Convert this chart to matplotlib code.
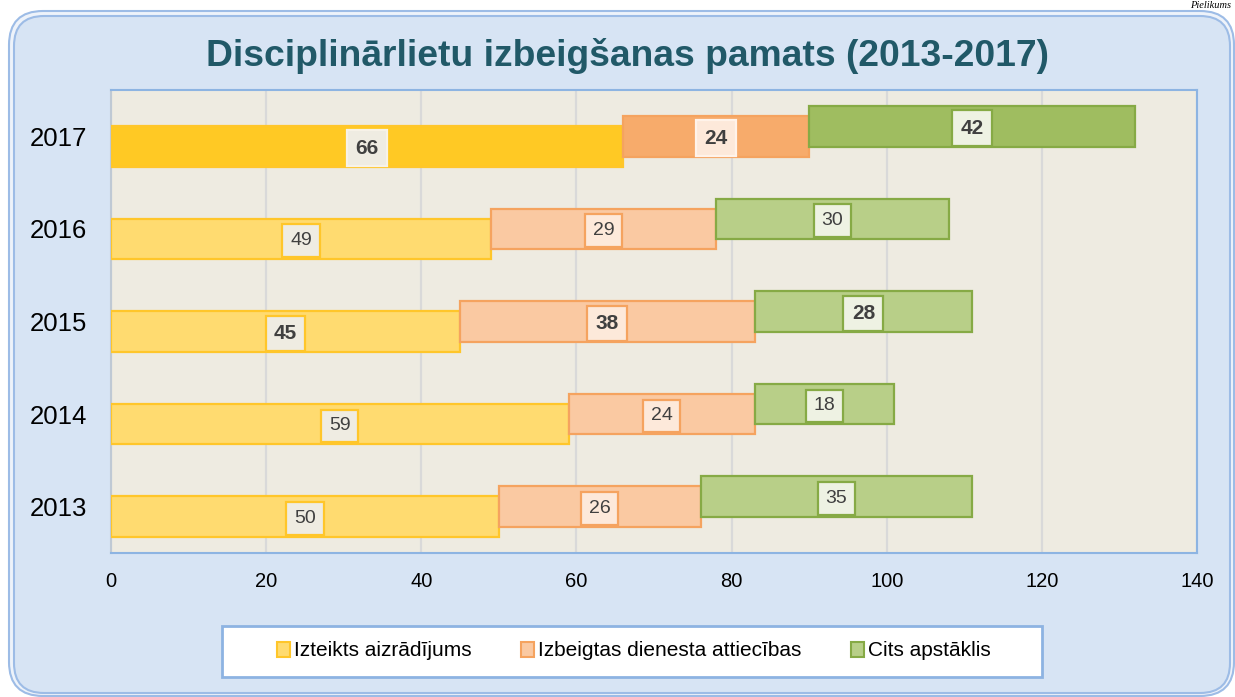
import matplotlib
matplotlib.use("Agg")
import matplotlib.pyplot as plt
from matplotlib.patches import FancyBboxPatch, Rectangle, Patch
import numpy as np

plt.rcParams['font.family'] = ['Liberation Sans', 'DejaVu Sans']

# ---- data ----
years = ["2013", "2014", "2015", "2016", "2017"]
series_names = ["Izteikts aizrādījums", "Izbeigtas dienesta attiecības", "Cits apstāklis"]
aizradijums = [50, 59, 45, 49, 66]
dienesta = [26, 24, 38, 29, 24]
cits = [35, 18, 28, 30, 42]
bold_years = ["2015", "2017"]
dark_years = ["2017"]
title = "Disciplinārlietu izbeigšanas pamats (2013-2017)"
page_note = "Pielikums"

# ---- styles ----
face_light = ["#FFDB70", "#FAC9A2", "#B8CF88"]
face_dark = ["#FFC924", "#F7AB6B", "#9FBD60"]
edge_cols = ["#FFC62A", "#F5A35F", "#86AA45"]
lbl_face = ["#EFECE2", "#FDE9DA", "#EEF2E3"]
offsets = [-0.108, 0.0, 0.108]
bar_h = 0.44

W, H = 1235, 697
fig = plt.figure(figsize=(W / 100, H / 100), dpi=100)

# background panel
bg = fig.add_axes([0, 0, 1, 1], zorder=-5)
bg.set_xlim(0, W)
bg.set_ylim(H, 0)
bg.axis("off")
bg.add_patch(FancyBboxPatch((9, 11), 1225, 685, boxstyle="round,pad=0,rounding_size=34",
                            fc="#EEF3FA", ec="#9DBCE6", lw=1.5))
bg.add_patch(FancyBboxPatch((14, 16), 1216, 677, boxstyle="round,pad=0,rounding_size=30",
                            fc="#D7E4F4", ec="#9DBCE6", lw=1.5))
# legend box
bg.add_patch(Rectangle((222, 626), 820, 51, fc="white", ec="#8DB3E2", lw=2))
# page annotation at top right
bg.text(1231, 0.5, page_note, fontsize=7.5, family="Liberation Serif", style="italic",
        ha="right", va="top", color="black")

# main axes
ax = fig.add_axes([111 / W, 1 - 553 / H, (1197 - 111) / W, (553 - 90) / H])
ax.set_facecolor("#EEEBE1")
pos = np.arange(len(years))
data = [aizradijums, dienesta, cits]
left = np.zeros(len(years))
for s, vals in enumerate(data):
    vals = np.array(vals, dtype=float)
    faces = [face_dark[s] if y in dark_years else face_light[s] for y in years]
    ax.barh(pos + offsets[s], vals, left=left, height=bar_h, color=faces,
            edgecolor=edge_cols[s], linewidth=1.6, zorder=3)
    for i, y in enumerate(years):
        isb = y in bold_years
        if y in dark_years and s < 2:
            ec = "#F7F2E8" if s == 0 else "#FFF3EA"
        else:
            ec = edge_cols[s]
        ax.text(left[i] + vals[i] / 2, pos[i] + offsets[s] - 0.02, f"{int(vals[i])}",
                ha="center", va="center", fontsize=15 if isb else 14,
                fontweight="bold" if isb else "normal", color="#404040", zorder=5,
                bbox=dict(boxstyle="square,pad=0.4", fc=lbl_face[s], ec=ec, lw=1.6))
    left += vals

ax.set_xlim(0, 140)
ax.set_ylim(-0.5, len(years) - 0.5)
ax.set_xticks(np.arange(0, 141, 20))
ax.set_yticks(pos)
ax.set_yticklabels(years)
ax.tick_params(axis="x", length=0, pad=14, labelsize=14.5, labelcolor="black")
ax.tick_params(axis="y", length=0, pad=17, labelsize=18.5, labelcolor="black")
ax.grid(axis="x", color="#D9D9D9", lw=1.6, zorder=0)
ax.grid(axis="y", visible=False)
ax.set_axisbelow(True)
for sp in ["top", "right", "bottom"]:
    ax.spines[sp].set_color("#8DB4E2")
    ax.spines[sp].set_linewidth(1.5)
ax.spines["left"].set_color("#BFC9D4")
ax.spines["left"].set_linewidth(1.5)

fig.text(628 / W, 1 - 56 / H, title, ha="center", va="center", fontsize=26.8,
         fontweight="bold", color="#215968")

handles = [Patch(fc=face_light[s], ec=edge_cols[s], lw=1.5) for s in range(3)]
fig.legend(handles, series_names, loc="center", bbox_to_anchor=(634 / W, 1 - 651 / H),
           ncol=3, frameon=False, fontsize=15, columnspacing=2.4, handlelength=0.6,
           handleheight=0.7, handletextpad=0.2)

fig.savefig("out.png", dpi=100)
